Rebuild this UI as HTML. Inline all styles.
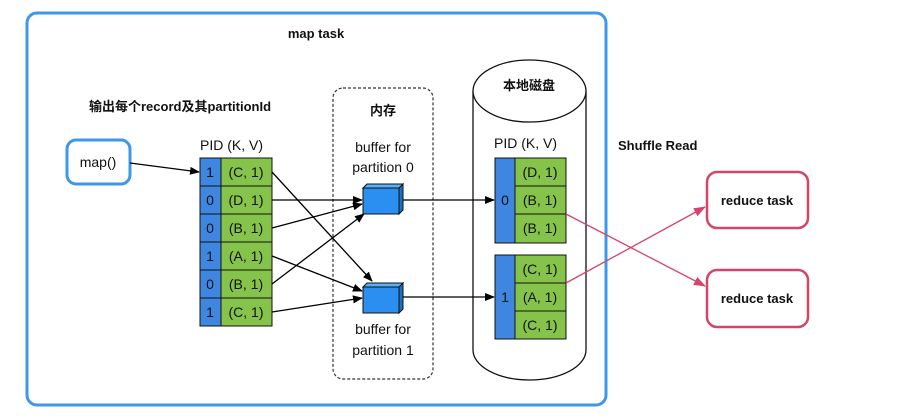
<!DOCTYPE html>
<html><head><meta charset="utf-8"><style>
html,body{margin:0;padding:0;background:#fff;}
svg{display:block;}
text{font-family:"Liberation Sans","Noto Sans CJK SC",sans-serif;font-size:13px;fill:#111;}
.b{font-weight:bold;}
.t{font-size:14px;}
</style></head><body>
<svg width="913" height="420" viewBox="0 0 913 420" xmlns="http://www.w3.org/2000/svg">
<defs>
<marker id="a" markerWidth="10" markerHeight="8" refX="9" refY="4" orient="auto" markerUnits="userSpaceOnUse"><path d="M0,0 L10,4 L0,8 z" fill="#000"/></marker>
<marker id="p" markerWidth="12" markerHeight="9" refX="11" refY="4.5" orient="auto" markerUnits="userSpaceOnUse"><path d="M0,0 L12,4.5 L0,9 z" fill="#d4456c"/></marker>
</defs>
<rect x="27" y="13" width="579" height="392" rx="10" fill="#fff" stroke="#3d98e8" stroke-width="3"/>
<text x="316" y="38" text-anchor="middle" class="b">map task</text>
<text x="89" y="111" class="b">输出每个record及其partitionId</text>
<rect x="67" y="140" width="63" height="44" rx="9" fill="#fff" stroke="#3d98e8" stroke-width="3"/>
<text x="98" y="167" text-anchor="middle" class="t">map()</text>
<line x1="130" y1="163" x2="199" y2="172" stroke="#000" stroke-width="1.3" marker-end="url(#a)"/>
<rect x="333" y="88" width="100" height="291" rx="10" fill="none" stroke="#333" stroke-width="1.2" stroke-dasharray="3,2"/>
<text x="383" y="115" text-anchor="middle" class="b">内存</text>
<text x="383" y="152" text-anchor="middle" class="t">buffer for</text>
<text x="383" y="172" text-anchor="middle" class="t">partition 0</text>
<text x="383" y="334" text-anchor="middle" class="t">buffer for</text>
<text x="383" y="355" text-anchor="middle" class="t">partition 1</text>
<text x="200" y="150" class="t">PID  (K, V)</text>
<g stroke="#111" stroke-width="1">
<rect x="200" y="158" width="21" height="168" fill="#3f86e0"/>
<rect x="221" y="158" width="51" height="168" fill="#86c34a"/>
<line x1="200" y1="186" x2="272" y2="186"/><line x1="200" y1="214" x2="272" y2="214"/><line x1="200" y1="242" x2="272" y2="242"/><line x1="200" y1="270" x2="272" y2="270"/><line x1="200" y1="298" x2="272" y2="298"/>
</g>
<g text-anchor="middle" class="t">
<text x="210" y="177" class="t">1</text><text x="210" y="205" class="t">0</text><text x="210" y="233" class="t">0</text><text x="210" y="261" class="t">1</text><text x="210" y="289" class="t">0</text><text x="210" y="317" class="t">1</text>
<text x="246" y="177" class="t">(C, 1)</text><text x="246" y="205" class="t">(D, 1)</text><text x="246" y="233" class="t">(B, 1)</text><text x="246" y="261" class="t">(A, 1)</text><text x="246" y="289" class="t">(B, 1)</text><text x="246" y="317" class="t">(C, 1)</text>
</g>
<g stroke="#000" stroke-width="1.3" fill="none" marker-end="url(#a)">
<line x1="272" y1="172" x2="372" y2="281"/>
<line x1="272" y1="200" x2="362" y2="200"/>
<line x1="272" y1="228" x2="362" y2="204"/>
<line x1="272" y1="256" x2="362" y2="291"/>
<line x1="272" y1="284" x2="364" y2="214"/>
<line x1="272" y1="312" x2="362" y2="298"/>
</g>
<g stroke="#111" stroke-width="1">
<path d="M399,188 L403,184 L403,210 L399,214 z" fill="#1b6fc4"/>
<path d="M363,188 L367,184 L403,184 L399,188 z" fill="#5ab0f5"/>
<rect x="363" y="188" width="36" height="26" fill="#2a8ff0"/>
<path d="M399,287 L403,283 L403,309 L399,313 z" fill="#1b6fc4"/>
<path d="M363,287 L367,283 L403,283 L399,287 z" fill="#5ab0f5"/>
<rect x="363" y="287" width="36" height="26" fill="#2a8ff0"/>
</g>
<path d="M473,91 L473,350 A56.5,30 0 0 0 586,350 L586,91" fill="#fff" stroke="#111" stroke-width="1.3"/>
<ellipse cx="529.5" cy="91" rx="56.5" ry="31" fill="#fff" stroke="#111" stroke-width="1.3"/>
<text x="529" y="90" text-anchor="middle" class="b">本地磁盘</text>
<line x1="403" y1="200" x2="494" y2="200" stroke="#000" stroke-width="1.3" marker-end="url(#a)"/>
<line x1="403" y1="297" x2="494" y2="297" stroke="#000" stroke-width="1.3" marker-end="url(#a)"/>
<text x="494" y="148" class="t">PID  (K, V)</text>
<g stroke="#111" stroke-width="1">
<rect x="495" y="158" width="20" height="85" fill="#3f86e0"/>
<rect x="515" y="158" width="51" height="85" fill="#86c34a"/>
<line x1="515" y1="186" x2="566" y2="186"/><line x1="515" y1="214" x2="566" y2="214"/>
<rect x="495" y="255" width="20" height="84" fill="#3f86e0"/>
<rect x="515" y="255" width="51" height="84" fill="#86c34a"/>
<line x1="515" y1="283" x2="566" y2="283"/><line x1="515" y1="311" x2="566" y2="311"/>
</g>
<g text-anchor="middle">
<text x="505" y="205" class="t">0</text><text x="505" y="302" class="t">1</text>
<text x="540" y="177" class="t">(D, 1)</text><text x="540" y="205" class="t">(B, 1)</text><text x="540" y="233" class="t">(B, 1)</text>
<text x="540" y="274" class="t">(C, 1)</text><text x="540" y="302" class="t">(A, 1)</text><text x="540" y="330" class="t">(C, 1)</text>
</g>
<text x="618" y="150" class="b">Shuffle Read</text>
<rect x="707" y="172" width="101" height="56" rx="10" fill="#fff" stroke="#d4456c" stroke-width="2.5"/>
<rect x="707" y="270" width="101" height="57" rx="10" fill="#fff" stroke="#d4456c" stroke-width="2.5"/>
<text x="757" y="205" text-anchor="middle" class="b">reduce task</text>
<text x="757" y="303" text-anchor="middle" class="b">reduce task</text>
<line x1="566" y1="214" x2="705" y2="286" stroke="#d4456c" stroke-width="1.3" marker-end="url(#p)"/>
<line x1="566" y1="283" x2="705" y2="207" stroke="#d4456c" stroke-width="1.3" marker-end="url(#p)"/>
</svg>
</body></html>
